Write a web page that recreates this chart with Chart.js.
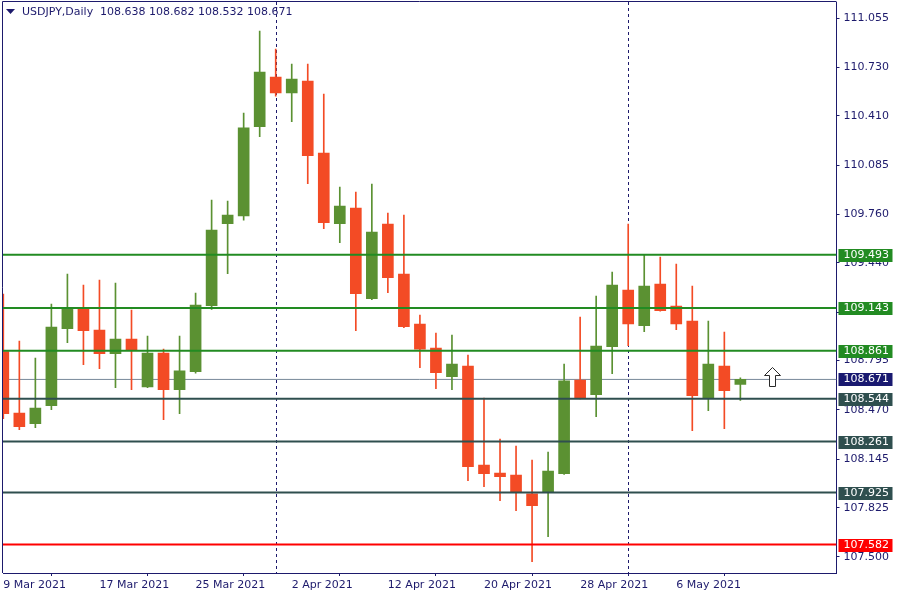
<!DOCTYPE html>
<html lang="en">
<head>
<meta charset="UTF-8">
<title>USDJPY Daily</title>
<script src="https://cdn.jsdelivr.net/npm/chart.js"></script>
<style>
    html, body { margin: 0; padding: 0; background: #ffffff; }
    canvas { display: block; }
</style>
</head>
<body>
<canvas id="chart" width="900" height="600"></canvas>
<script>
    // daily bars, 9 Mar 2021 .. 12 May 2021
    const dates = [
        '9 Mar 2021', '10 Mar 2021', '11 Mar 2021', '12 Mar 2021', '15 Mar 2021', '16 Mar 2021',
        '17 Mar 2021', '18 Mar 2021', '19 Mar 2021', '22 Mar 2021', '23 Mar 2021', '24 Mar 2021',
        '25 Mar 2021', '26 Mar 2021', '29 Mar 2021', '30 Mar 2021', '31 Mar 2021', '1 Apr 2021',
        '2 Apr 2021', '5 Apr 2021', '6 Apr 2021', '7 Apr 2021', '8 Apr 2021', '9 Apr 2021',
        '12 Apr 2021', '13 Apr 2021', '14 Apr 2021', '15 Apr 2021', '16 Apr 2021', '19 Apr 2021',
        '20 Apr 2021', '21 Apr 2021', '22 Apr 2021', '23 Apr 2021', '26 Apr 2021', '27 Apr 2021',
        '28 Apr 2021', '29 Apr 2021', '30 Apr 2021', '3 May 2021', '4 May 2021', '5 May 2021',
        '6 May 2021', '7 May 2021', '10 May 2021', '11 May 2021', '12 May 2021'
    ];
    const opens = [108.854, 108.449, 108.379, 108.498, 109.006, 109.135, 108.997, 108.841, 108.938, 108.621,
        108.845, 108.603, 108.722, 109.157, 109.698, 109.749, 110.338, 110.666, 110.562, 110.639,
        110.164, 109.698, 109.802, 109.203, 109.696, 109.366, 109.036, 108.878, 108.689, 108.759,
        108.106, 108.054, 108.040, 107.917, 107.924, 108.049, 108.667, 108.570, 108.887, 109.261,
        109.025, 109.300, 109.155, 109.056, 108.550, 108.759, 108.638];
    const highs = [109.234, 108.924, 108.812, 109.168, 109.366, 109.294, 109.327, 109.307, 109.129, 108.957,
        108.872, 108.957, 109.241, 109.854, 109.848, 110.428, 110.969, 110.851, 110.752, 110.752,
        110.554, 109.940, 109.907, 109.960, 109.769, 109.755, 109.096, 108.977, 108.964, 108.832,
        108.548, 108.278, 108.232, 108.139, 108.192, 108.773, 109.083, 109.221, 109.380, 109.696,
        109.492, 109.478, 109.432, 109.287, 109.056, 108.984, 108.682];
    const lows = [108.412, 108.339, 108.352, 108.471, 108.913, 108.768, 108.742, 108.616, 108.603, 108.616,
        108.405, 108.445, 108.713, 109.133, 109.368, 109.722, 110.272, 110.540, 110.371, 109.962,
        109.665, 109.573, 108.992, 109.198, 109.243, 109.012, 108.748, 108.610, 108.603, 108.003,
        107.963, 107.871, 107.805, 107.469, 107.633, 108.045, 108.542, 108.425, 108.709, 108.893,
        108.986, 109.122, 108.999, 108.333, 108.465, 108.346, 108.532];
    const closes = [108.445, 108.359, 108.482, 109.017, 109.137, 108.992, 108.841, 108.938, 108.867, 108.845,
        108.603, 108.727, 109.162, 109.657, 109.755, 110.331, 110.699, 110.562, 110.653, 110.147,
        109.705, 109.815, 109.236, 109.643, 109.342, 109.019, 108.870, 108.715, 108.773, 108.095,
        108.049, 108.029, 107.930, 107.838, 108.067, 108.662, 108.550, 108.891, 109.294, 109.038,
        109.287, 109.124, 109.038, 108.564, 108.773, 108.597, 108.671];

    const priceTicks = [111.055, 110.730, 110.410, 110.085, 109.760, 109.440, 109.115, 108.795, 108.470, 108.145, 107.825, 107.500];
    const dateTicks = [0, 6, 12, 18, 24, 30, 36, 42];
    const separators = [17, 39];   // first bar of April and May

    // horizontal levels drawn on the chart
    const levels = [109.493, 109.143, 108.861, 108.544, 108.261, 107.925, 107.582];
    const levelColors = ['#228b22', '#228b22', '#228b22', '#2f4f4f', '#2f4f4f', '#2f4f4f', '#ff0000'];

    // up arrow object: bar index and price of its tip
    const arrowBar = 48;
    const arrowPrice = 108.755;

    const symbol = 'USDJPY,Daily';
    const xMin = -0.02, xMax = 52;
    const yMin = 107.394, yMax = 111.161;

    const navy = '#1d1a6c';
    const bull = '#5b9132', bear = '#f34b25';
    const last = closes.length - 1;
    const bid = closes[last];

    Chart.defaults.font.family = '"DejaVu Sans", Verdana, sans-serif';
    Chart.defaults.font.size = 11;
    Chart.defaults.color = navy;

    const idx = dates.map((d, i) => i);
    const candleColors = idx.map(i => closes[i] >= opens[i] ? bull : bear);

    const levelSets = levels.map((v, i) => ({
        type: 'line',
        data: [{x: xMin, y: v}, {x: xMax, y: v}],
        borderColor: levelColors[i],
        borderWidth: 2,
        pointRadius: 0,
        order: 0
    }));

    const decor = {
        id: 'decor',
        beforeDatasetsDraw(chart) {
            const {ctx, chartArea: a, scales: {x}} = chart;
            ctx.save();
            ctx.strokeStyle = navy;
            ctx.lineWidth = 1;
            ctx.setLineDash([3, 3]);
            separators.forEach(i => {
                const px = Math.round(x.getPixelForValue(i)) + 0.5;
                ctx.beginPath();
                ctx.moveTo(px, a.top);
                ctx.lineTo(px, a.bottom);
                ctx.stroke();
            });
            ctx.restore();
        },
        afterDraw(chart) {
            const {ctx, chartArea: a, scales: {x, y}} = chart;
            ctx.save();
            // frame: left and top (right/bottom are the axis borders)
            ctx.strokeStyle = navy;
            ctx.lineWidth = 1;
            ctx.beginPath();
            ctx.moveTo(a.left - 0.5, a.bottom);
            ctx.lineTo(a.left - 0.5, a.top - 0.5);
            ctx.lineTo(a.right, a.top - 0.5);
            ctx.stroke();

            // price boxes on the right scale
            const box = (v, color) => {
                const py = y.getPixelForValue(v);
                ctx.fillStyle = color;
                ctx.fillRect(a.right + 2, Math.round(py) - 6, 54, 13);
                ctx.fillStyle = '#ffffff';
                ctx.textAlign = 'left';
                ctx.textBaseline = 'middle';
                ctx.font = '11px "DejaVu Sans", Verdana, sans-serif';
                ctx.fillText(v.toFixed(3), a.right + 7, Math.round(py) + 0.5);
            };
            levels.forEach((v, i) => box(v, levelColors[i]));
            box(bid, '#191970');

            // title
            ctx.fillStyle = navy;
            ctx.beginPath();
            ctx.moveTo(6, 9);
            ctx.lineTo(15, 9);
            ctx.lineTo(10.5, 14);
            ctx.closePath();
            ctx.fill();
            ctx.font = '11px "DejaVu Sans", Verdana, sans-serif';
            ctx.textAlign = 'left';
            ctx.textBaseline = 'middle';
            const ohlc = [opens[last], highs[last], lows[last], closes[last]].map(v => v.toFixed(3)).join(' ');
            ctx.fillText(symbol, 22, 12.5);
            ctx.fillText(ohlc, 100, 12.5);

            // up arrow
            const cx = Math.round(x.getPixelForValue(arrowBar)) + 0.5;
            const ty = Math.round(y.getPixelForValue(arrowPrice)) + 0.5;
            ctx.beginPath();
            ctx.moveTo(cx, ty);
            ctx.lineTo(cx + 8, ty + 8);
            ctx.lineTo(cx + 3, ty + 8);
            ctx.lineTo(cx + 3, ty + 19);
            ctx.lineTo(cx - 3, ty + 19);
            ctx.lineTo(cx - 3, ty + 8);
            ctx.lineTo(cx - 8, ty + 8);
            ctx.closePath();
            ctx.fillStyle = '#ffffff';
            ctx.fill();
            ctx.strokeStyle = '#2a2a2a';
            ctx.lineWidth = 1;
            ctx.stroke();
            ctx.restore();
        }
    };

    new Chart(document.getElementById('chart').getContext('2d'), {
        type: 'bar',
        data: {
            datasets: [
                ...levelSets,
                {
                    label: 'body',
                    data: idx.map(i => ({x: i, y: [opens[i], closes[i]]})),
                    backgroundColor: candleColors,
                    barThickness: 11,
                    grouped: false,
                    order: 1
                },
                {
                    label: 'wick',
                    data: idx.map(i => ({x: i, y: [lows[i], highs[i]]})),
                    backgroundColor: candleColors,
                    barThickness: 1,
                    grouped: false,
                    order: 2
                },
                {
                    type: 'line',
                    data: [{x: xMin, y: bid}, {x: xMax, y: bid}],
                    borderColor: '#778899',
                    borderWidth: 1,
                    pointRadius: 0,
                    order: 3
                }
            ]
        },
        options: {
            responsive: false,
            animation: false,
            layout: {padding: {left: 3, top: 2, right: 0, bottom: 0}},
            plugins: {legend: {display: false}, tooltip: {enabled: false}},
            scales: {
                x: {
                    type: 'linear',
                    min: xMin,
                    max: xMax,
                    offset: false,
                    grid: {drawOnChartArea: false, tickLength: 3, color: navy},
                    border: {display: true, color: navy},
                    ticks: {
                        align: 'start', autoSkip: false, maxRotation: 0, padding: 3,
                        callback: v => dates[v]
                    },
                    afterBuildTicks: s => { s.ticks = dateTicks.map(v => ({value: v})); },
                    afterFit: s => { s.height = 27; s.paddingLeft = 0; s.paddingRight = 0; }
                },
                y: {
                    position: 'right',
                    min: yMin,
                    max: yMax,
                    grid: {drawOnChartArea: false, tickLength: 3, color: navy},
                    border: {display: true, color: navy},
                    ticks: {padding: 4, callback: v => v.toFixed(3)},
                    afterBuildTicks: s => { s.ticks = priceTicks.map(v => ({value: v})); },
                    afterFit: s => { s.width = 63.5; s.paddingTop = 0; s.paddingBottom = 0; }
                }
            }
        },
        plugins: [decor]
    });
</script>
</body>
</html>
